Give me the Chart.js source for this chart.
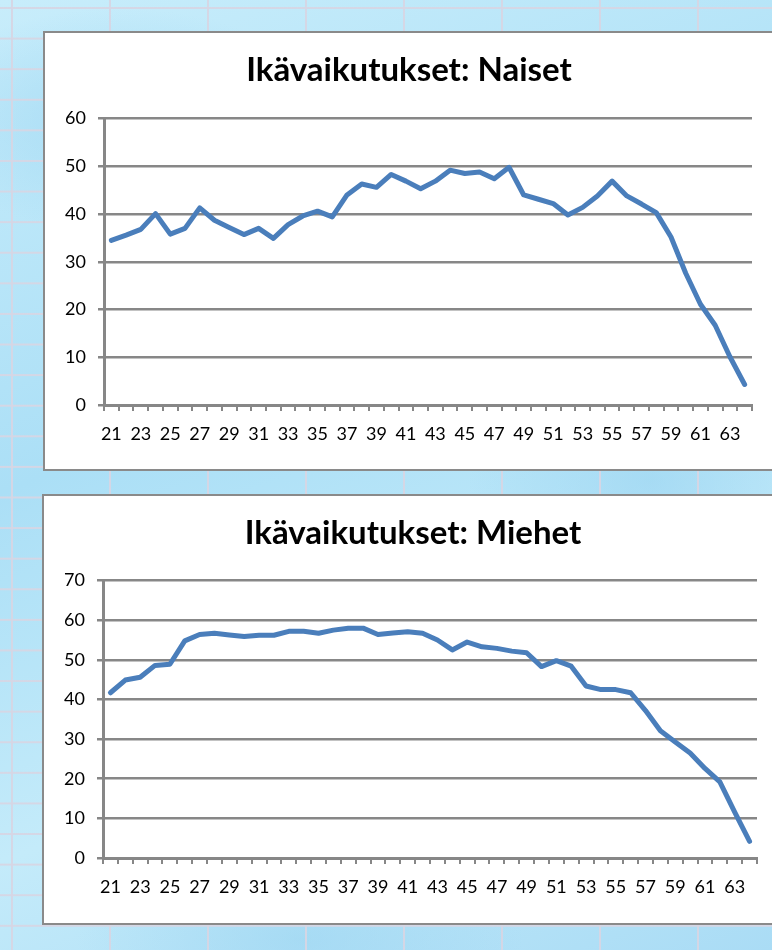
<!DOCTYPE html>
<html>
<head>
<meta charset="utf-8">
<script src="https://cdn.jsdelivr.net/npm/chart.js@4.4.1/dist/chart.umd.min.js"></script>
<style>
  html, body { margin: 0; padding: 0; }
  body {
    width: 772px; height: 950px; overflow: hidden; position: relative;
    background-color: #b9e4f8;
    background-image:
      linear-gradient(to right, rgba(214,214,228,0.95) 2px, transparent 2px),
      linear-gradient(to bottom, rgba(214,214,228,0.95) 2px, transparent 2px),
      radial-gradient(ellipse 300px 160px at 120px 120px, rgba(150,210,240,0.55), transparent 70%),
      radial-gradient(ellipse 260px 200px at 650px 480px, rgba(150,210,240,0.55), transparent 70%),
      radial-gradient(ellipse 320px 160px at 300px 940px, rgba(150,210,240,0.5), transparent 70%),
      linear-gradient(160deg, #c8edfb 0%, #abdff6 40%, #c4ebfa 70%, #aadcf5 100%);
    background-size: 98px 30.6px, 98px 30.6px, 100% 100%, 100% 100%, 100% 100%, 100% 100%;
    background-position: 11px 0, 0 7px, 0 0, 0 0, 0 0, 0 0;
  }
  .box {
    position: absolute; background: #fff; border: 2px solid #8a8a8a; box-sizing: border-box;
  }
  canvas { display: block; }
</style>
</head>
<body>
<div class="box" id="box1" style="left:43px; top:31px; width:760px; height:440px;">
  <canvas id="c1" width="728" height="436"></canvas>
</div>
<div class="box" id="box2" style="left:42px; top:494px; width:760px; height:431px;">
  <canvas id="c2" width="738" height="427"></canvas>
</div>
<script>
const ages = [21,22,23,24,25,26,27,28,29,30,31,32,33,34,35,36,37,38,39,40,41,42,43,44,45,46,47,48,49,50,51,52,53,54,55,56,57,58,59,60,61,62,63,64];

const naiset = [34.5,35.6,36.8,40.1,35.8,37.0,41.3,38.7,37.2,35.7,
                37.0,34.9,37.8,39.6,40.6,39.4,44.0,46.3,45.6,48.3,
                46.9,45.3,46.9,49.2,48.5,48.8,47.4,49.8,44.0,43.1,
                42.2,39.8,41.4,43.8,46.9,43.8,42.1,40.3,35.2,27.6,
                21.1,16.7,10.1,4.3];

const miehet = [41.7,44.9,45.6,48.6,48.9,54.8,56.4,56.7,56.3,55.9,
                56.2,56.2,57.2,57.2,56.7,57.5,58.0,58.0,56.4,56.8,
                57.1,56.7,55.0,52.5,54.5,53.3,52.9,52.2,51.8,48.3,
                49.8,48.4,43.4,42.5,42.5,41.7,37.2,32.1,29.3,26.5,
                22.6,19.2,11.6,4.2];

const titles = ["Ikävaikutukset: Naiset", "Ikävaikutukset: Miehet"];
const yMax = [60, 70];
const yStep = 10;

const GRID = '#878787';
const LINE = '#4a7ebb';

function makeChart(id, title, values, max, cfg) {
  new Chart(document.getElementById(id), {
    type: 'line',
    data: {
      labels: ages,
      datasets: [{
        data: values,
        borderColor: LINE,
        borderWidth: 5,
        pointRadius: 0,
        tension: 0,
        borderCapStyle: 'round',
        borderJoinStyle: 'round',
        fill: false
      }]
    },
    options: {
      responsive: false,
      animation: false,
      layout: { padding: 0 },
      plugins: {
        legend: { display: false },
        tooltip: { enabled: false },
        title: {
          display: true,
          text: title,
          color: '#000',
          font: { family: 'Lato', weight: 'bold', size: 33 },
          padding: { top: cfg.titleTop, bottom: cfg.titleBottom }
        }
      },
      scales: {
        x: {
          type: 'category',
          offset: true,
          grid: {
            offset: true,
            drawOnChartArea: false,
            drawTicks: true,
            tickLength: 6,
            color: GRID,
            lineWidth: 2
          },
          border: { color: GRID, width: 3 },
          ticks: {
            autoSkip: false,
            maxRotation: 0,
            minRotation: 0,
            padding: 12,
            color: '#000',
            font: { family: 'Lato', size: 18 },
            callback: function(val, idx) { return idx % 2 === 0 ? this.getLabelForValue(val) : ''; }
          },
          afterFit: function(s) { s.height = cfg.xHeight; }
        },
        y: {
          min: 0,
          max: max,
          grid: {
            color: GRID,
            lineWidth: 2.5,
            tickLength: 6
          },
          border: { color: GRID, width: 3 },
          ticks: {
            stepSize: yStep,
            padding: 12,
            color: '#000',
            font: { family: 'Lato', size: 18 }
          },
          afterFit: function(s) { s.width = 59; }
        },
        spacer: {
          type: 'linear',
          position: 'right',
          display: true,
          grid: { display: false, drawTicks: false },
          border: { display: false },
          ticks: { display: false },
          afterFit: function(s) { s.width = cfg.padRight; }
        }
      }
    }
  });
}

makeChart('c1', titles[0], naiset, yMax[0], { padRight: 21, titleTop: 18, titleBottom: 28, xHeight: 64 });
makeChart('c2', titles[1], miehet, yMax[1], { padRight: 25, titleTop: 18, titleBottom: 27, xHeight: 65 });
</script>
</body>
</html>
